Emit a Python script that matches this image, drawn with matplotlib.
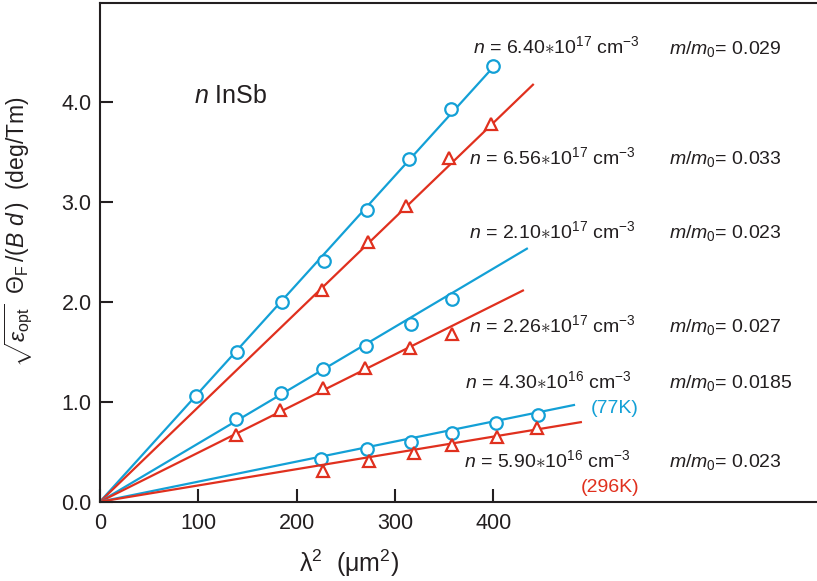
import numpy as np
import matplotlib
matplotlib.use("Agg")
import matplotlib.pyplot as plt

# Faraday rotation vs lambda^2 for n-type InSb samples

plt.rcParams['font.family'] = ['Liberation Sans', 'DejaVu Sans']
plt.rcParams['mathtext.fontset'] = 'custom'
plt.rcParams['mathtext.rm'] = 'Liberation Sans'
plt.rcParams['mathtext.it'] = 'Liberation Sans:italic'
plt.rcParams['mathtext.bf'] = 'Liberation Sans:bold'

BLUE = '#13a0d6'
RED = '#e0301e'
INK = '#231f20'

# data (x = lambda^2 in um^2, y = rotation)
x1 = [98, 139, 185, 228, 271, 314, 357, 400]
y1 = [1.06, 1.50, 2.00, 2.41, 2.92, 3.43, 3.93, 4.36]
x2 = [226, 272, 311, 355, 398]
y2 = [2.12, 2.60, 2.96, 3.44, 3.78]
x3 = [138, 184, 227, 270, 316, 358]
y3 = [0.83, 1.09, 1.33, 1.56, 1.78, 2.03]
x4 = [138, 183, 227, 269, 315, 358]
y4 = [0.67, 0.92, 1.14, 1.34, 1.54, 1.68]
x5 = [225, 271, 316, 358, 403, 445]
y5 = [0.43, 0.53, 0.60, 0.69, 0.79, 0.87]
x6 = [227, 273, 319, 358, 404, 444]
y6 = [0.31, 0.41, 0.49, 0.57, 0.65, 0.74]

# fitted lines through the origin: slope and where the drawn line stops
slopes = [0.01089, 0.00949, 0.00584, 0.00492, 0.00201, 0.00163]
line_end = [400, 441, 435, 431, 483, 490]

series = [(x1, y1), (x2, y2), (x3, y3), (x4, y4), (x5, y5), (x6, y6)]
colors = [BLUE, RED, BLUE, RED, BLUE, RED]
markers = ['o', '^', 'o', '^', 'o', '^']

n_labels = [r'$n$ = 6.40$\ast$10$^{17}$ cm$^{-3}$',
            r'$n$ = 6.56$\ast$10$^{17}$ cm$^{-3}$',
            r'$n$ = 2.10$\ast$10$^{17}$ cm$^{-3}$',
            r'$n$ = 2.26$\ast$10$^{17}$ cm$^{-3}$',
            r'$n$ = 4.30$\ast$10$^{16}$ cm$^{-3}$',
            r'$n$ = 5.90$\ast$10$^{16}$ cm$^{-3}$']
mass = ['0.029', '0.033', '0.023', '0.027', '0.0185', '0.023']
label_x = [379, 375, 375, 375, 371, 370]
label_y = [4.49, 3.38, 2.64, 1.70, 1.14, 0.35]

fig = plt.figure(figsize=(8.17, 5.81), dpi=100)
ax = fig.add_axes([0.1224, 0.1365, 0.8776, 0.859])

for (xs, ys), c, m, k, xe in zip(series, colors, markers, slopes, line_end):
    xl = np.array([0, xe])
    ax.plot(xl, k * xl, color=c, lw=1.6, solid_capstyle='butt')
    ax.plot(xs, ys, ls='none', marker=m, ms=9,
            mfc='white', mec=c, mew=1.6)

for lab, mm, lx, ly in zip(n_labels, mass, label_x, label_y):
    ax.text(lx, ly, lab, fontsize=14, va='baseline', ha='left', color=INK)
    ax.text(579, ly, r'$m/m_0$= ' + mm, fontsize=14, va='baseline', ha='left',
            color=INK)

ax.text(548, 0.888, '(77K)', fontsize=14, color=BLUE, ha='right', va='baseline')
ax.text(548, 0.094, '(296K)', fontsize=14, color=RED, ha='right', va='baseline')
ax.text(95.6, 3.99, r'$n$ InSb', fontsize=18, va='baseline', color=INK)

ax.set_xlim(0, 729)
ax.set_ylim(0, 5.0)
ax.set_xticks([0, 100, 200, 300, 400])
ax.set_yticks([0, 1, 2, 3, 4])
ax.set_yticklabels(['0.0', '1.0', '2.0', '3.0', '4.0'])
ax.tick_params(axis='both', direction='in', length=9.5, width=1.5,
               labelsize=15.5, colors=INK)
ax.tick_params(axis='x', pad=8)
ax.tick_params(axis='y', pad=6)
ax.spines['right'].set_visible(False)
for s in ['left', 'bottom', 'top']:
    ax.spines[s].set_linewidth(1.5)
    ax.spines[s].set_color(INK)

fig.text(349 / 817, 1 - 563 / 581, r'$\mathrm{\lambda}^2$  ($\mathrm{\mu}$m$^2$)',
         fontsize=18, ha='center', va='center', color=INK)
fig.text(19 / 817, 1 - 232 / 581,
         r'$\sqrt{\varepsilon_{\rm opt}}\ \ \mathit{Θ}_{\rm F}\,/(B\ d\,)\ \ ({\rm deg/Tm})$',
         fontsize=16.5, rotation=90, ha='center', va='center', color=INK)

fig.savefig('out.png', dpi=100)
